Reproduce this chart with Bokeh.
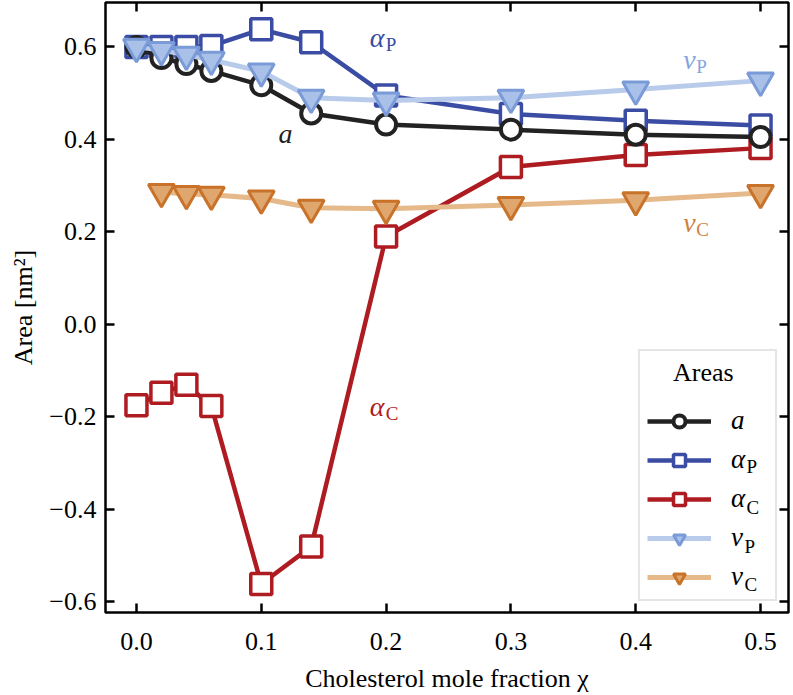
from bokeh.plotting import figure
from bokeh.models import (Range1d, FixedTicker, LinearAxis, Legend, LegendItem, Label)
from bokeh.core.properties import value
from bokeh.embed import file_html
from bokeh.resources import INLINE

# ---- data ----
chi = [0.0, 0.02, 0.04, 0.06, 0.10, 0.14, 0.20, 0.30, 0.40, 0.50]
area_a = [0.600, 0.576, 0.563, 0.548, 0.517, 0.456, 0.432, 0.421, 0.410, 0.405]
alpha_P = [0.600, 0.600, 0.600, 0.602, 0.638, 0.610, 0.495, 0.455, 0.440, 0.430]
alpha_C = [-0.175, -0.148, -0.131, -0.177, -0.562, -0.481, 0.190, 0.340, 0.366, 0.381]
chi_vP = [0.0, 0.02, 0.04, 0.06, 0.10, 0.14, 0.20, 0.30, 0.40, 0.50]
v_P = [0.600, 0.593, 0.583, 0.572, 0.547, 0.490, 0.484, 0.490, 0.508, 0.527]
chi_vC = [0.02, 0.04, 0.06, 0.10, 0.14, 0.20, 0.30, 0.40, 0.50]
v_C = [0.286, 0.282, 0.280, 0.272, 0.252, 0.250, 0.258, 0.268, 0.284]

x_ticks = [0.0, 0.1, 0.2, 0.3, 0.4, 0.5]
x_tick_labels = ["0.0", "0.1", "0.2", "0.3", "0.4", "0.5"]
y_ticks = [-0.6, -0.4, -0.2, 0.0, 0.2, 0.4, 0.6]
y_tick_labels = ["\u22120.6", "\u22120.4", "\u22120.2", "0.0", "0.2", "0.4", "0.6"]

legend_main = ["a", "\u03b1", "\u03b1", "v", "v"]
legend_sub = ["", "P", "C", "P", "C"]
legend_title = "Areas"

# in-plot annotations: main symbol, subscript, anchor
ann_main = ["a", "\u03b1", "\u03b1", "v", "v"]
ann_sub = ["", "P", "C", "P", "C"]
ann_x = [0.1138, 0.187, 0.187, 0.438, 0.438]
ann_y = [0.412, 0.620, -0.1775, 0.572, 0.220]

# ---- styles ----
FONT = "Liberation Serif"
C_A = "#222222"
C_AP = "#3a4ca3"
C_AC = "#ae1c22"
C_VP_LINE = "#b8cbea"
C_VP_FILL = "#a9c0e8"
C_VP_EDGE = "#7b9bd8"
C_VC_LINE = "#e6b98a"
C_VC_FILL = "#dfa66e"
C_VC_EDGE = "#c97229"
ann_colors = [C_A, C_AP, C_AC, "#86a3dc", "#d0803c"]

p = figure(width=793, height=695, output_backend="svg", toolbar_location=None,
           x_range=Range1d(-0.0248, 0.5224), y_range=Range1d(-0.6235, 0.696),
           x_axis_label="Cholesterol mole fraction \u03c7", y_axis_label="Area [nm\u00b2]")
p.min_border_left = 105
p.min_border_right = 5
p.min_border_top = 2
p.min_border_bottom = 76
p.xgrid.visible = False
p.ygrid.visible = False
p.outline_line_color = "black"
p.outline_line_width = 2.5
p.outline_line_alpha = 1.0

xt = FixedTicker(ticks=x_ticks)
yt = FixedTicker(ticks=y_ticks)
for ax in p.xaxis:
    ax.ticker = xt
    ax.major_label_overrides = dict(zip(x_ticks, x_tick_labels))
for ax in p.yaxis:
    ax.ticker = yt
    ax.major_label_overrides = dict(zip(y_ticks, y_tick_labels))

def style_axis(ax, labels=True, standoff=12, label_standoff=9):
    ax.axis_line_color = None
    ax.major_tick_in = 9
    ax.major_tick_out = 0
    ax.major_tick_line_width = 2.5
    ax.major_tick_line_color = "black"
    ax.minor_tick_line_color = None
    ax.major_label_text_font = FONT
    ax.axis_label_text_font = FONT
    ax.axis_label_text_font_size = "26px"
    ax.axis_label_text_font_style = "normal"
    ax.axis_label_text_color = "black"
    ax.axis_label_standoff = label_standoff
    if labels:
        ax.major_label_text_font_size = "26px"
        ax.major_label_text_color = "black"
        ax.major_label_standoff = standoff
    else:
        ax.major_label_text_font_size = "1px"
        ax.major_label_text_color = None
        ax.major_label_standoff = 0

style_axis(p.xaxis[0], standoff=20, label_standoff=11)
style_axis(p.yaxis[0], standoff=9, label_standoff=8)
p.yaxis[0].major_label_orientation = "horizontal"

top = LinearAxis(ticker=xt)
style_axis(top, labels=False)
p.add_layout(top, "above")
right = LinearAxis(ticker=yt)
style_axis(right, labels=False)
p.add_layout(right, "right")

# ---- series ----
lAP = p.line(chi, alpha_P, line_color=C_AP, line_width=4.5)
sAP = p.scatter(chi, alpha_P, marker="square", size=21, line_color=C_AP, line_width=3.5, fill_color="white")
lAC = p.line(chi, alpha_C, line_color=C_AC, line_width=4.5)
sAC = p.scatter(chi, alpha_C, marker="square", size=21, line_color=C_AC, line_width=3.5, fill_color="white")
lA = p.line(chi, area_a, line_color=C_A, line_width=4.5)
sA = p.scatter(chi, area_a, marker="circle", size=20, line_color=C_A, line_width=4, fill_color="white")
lVP = p.line(chi_vP, v_P, line_color=C_VP_LINE, line_width=5)
sVP = p.scatter(chi_vP, v_P, marker="inverted_triangle", size=26, line_color=C_VP_EDGE, line_width=3, fill_color=C_VP_FILL)
lVC = p.line(chi_vC, v_C, line_color=C_VC_LINE, line_width=5)
sVC = p.scatter(chi_vC, v_C, marker="inverted_triangle", size=26, line_color=C_VC_EDGE, line_width=3, fill_color=C_VC_FILL)

# ---- annotations ----
for m, s, x, y, c in zip(ann_main, ann_sub, ann_x, ann_y, ann_colors):
    p.text(x=[x], y=[y], text=[m], text_font=value(FONT), text_font_size="28px",
           text_font_style="italic", text_color=c, text_align="left", text_baseline="middle")
    if s:
        w = 16 if m == "\u03b1" else 13
        p.text(x=[x], y=[y], text=[s], text_font=value(FONT), text_font_size="19px",
               text_color=c, text_align="left", text_baseline="middle", x_offset=w, y_offset=7)

# ---- legend ----
renders = [[lA, sA], [lAP, sAP], [lAC, sAC], [lVP, sVP], [lVC, sVC]]
items = [LegendItem(label=lab, renderers=r) for lab, r in zip(legend_main, renders)]
leg = Legend(items=items, location="bottom_right",
             title="\u00a0\u00a0\u00a0\u00a0" + legend_title)
leg.margin = 11
leg.padding = 7
leg.spacing = 8
leg.glyph_width = 64
leg.glyph_height = 30
leg.label_standoff = 20
leg.label_width = 37
leg.label_text_font = FONT
leg.label_text_font_size = "27px"
leg.label_text_font_style = "italic"
leg.label_text_color = "black"
leg.title_text_font = FONT
leg.title_text_font_size = "26px"
leg.title_text_font_style = "normal"
leg.title_text_color = "black"
leg.title_standoff = 17
leg.border_line_color = "#cccccc"
leg.border_line_width = 2.5
leg.background_fill_color = "white"
leg.background_fill_alpha = 0.0
p.add_layout(leg, "center")

# legend subscripts (screen units)
sub_x = [0, 641, 641, 639, 639]
sub_y = [0, 146, 105, 66, 28]
for s, x, y in zip(legend_sub, sub_x, sub_y):
    if s:
        p.add_layout(Label(x=x, y=y, x_units="screen", y_units="screen", text=s,
                           text_font=FONT, text_font_size="19px", text_color="black",
                           text_baseline="middle", level="overlay"))

open("out.html", "w").write(file_html(p, INLINE))
